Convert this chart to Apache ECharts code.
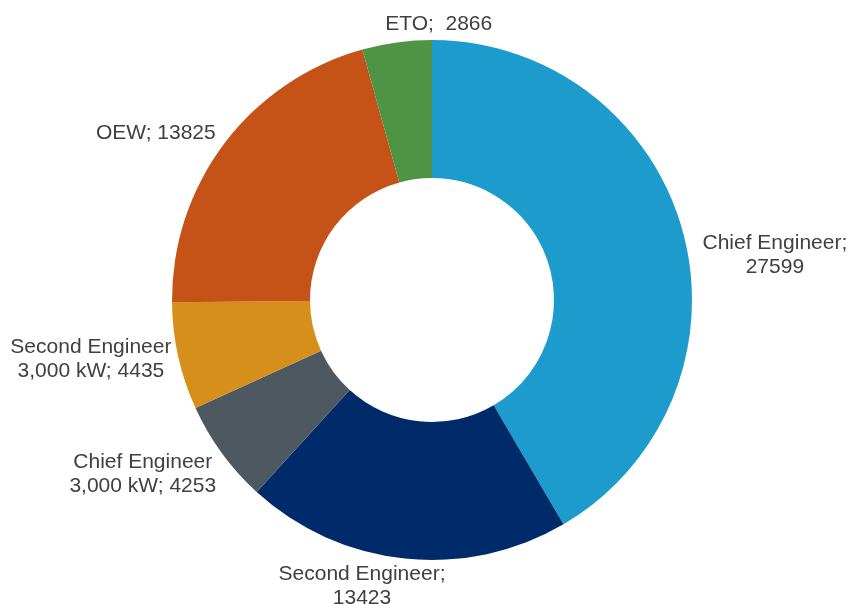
<!DOCTYPE html>
<html>
<head>
<meta charset="utf-8">
<script src="https://cdn.jsdelivr.net/npm/echarts@6/dist/echarts.min.js"></script>
<style>
  html, body { margin: 0; padding: 0; background: #fff; }
  #chart { width: 850px; height: 604px; }
</style>
</head>
<body>
<div id="chart"></div>
<script>
  // slices, clockwise from 12 o'clock
  const names = ['Chief Engineer', 'Second Engineer', 'Chief Engineer 3,000 kW', 'Second Engineer 3,000 kW', 'OEW', 'ETO']
  const values = [27599, 13423, 4253, 4435, 13825, 2866]
  const colors = ['#1e9bcd', '#002b6b', '#4d5860', '#d58f1a', '#c55216', '#4e9444']
  // label lines as broken in the reference
  const labelLines = [['Chief Engineer;', '27599'], ['Second Engineer;', '13423'], ['Chief Engineer', '3,000 kW; 4253'],
    ['Second Engineer', '3,000 kW; 4435'], ['OEW; 13825'], ['ETO;  2866']]

  // nudge from echarts' own outside label spot, to sit like the reference
  const labelShift = [[-17, 26], [67, 16], [29, 14], [30, 0], [26, -3], [122, -6]]

  const chart = echarts.init(document.getElementById('chart'))

  const seriesData = names.map((n, i) => ({
    name: n,
    value: values[i],
    itemStyle: { color: colors[i] },
    label: { formatter: labelLines[i].map(t => '{t|' + t + '}').join('\n') }
  }))

  chart.setOption({
    animation: false,
    series: [{
      type: 'pie',
      center: [432, 300],
      radius: [122, 260],
      startAngle: 90,
      clockwise: true,
      avoidLabelOverlap: false,
      data: seriesData,
      itemStyle: { borderWidth: 0 },
      label: {
        show: true,
        position: 'outside',
        overflow: 'none',
        color: '#404040',
        fontFamily: 'Liberation Sans, Arial, sans-serif',
        fontSize: 21,
        rich: {
          t: { align: 'center', fontSize: 21, lineHeight: 24, color: '#404040',
            fontFamily: 'Liberation Sans, Arial, sans-serif' }
        }
      },
      labelLine: { show: false, length: 12, length2: 20 },
      labelLayout: p => {
        const s = labelShift[p.dataIndex]
        return {
          x: p.labelRect.x + p.labelRect.width / 2 + s[0],
          y: p.labelRect.y + p.labelRect.height / 2 + s[1],
          align: 'center',
          verticalAlign: 'middle'
        }
      }
    }]
  })
</script>
</body>
</html>
